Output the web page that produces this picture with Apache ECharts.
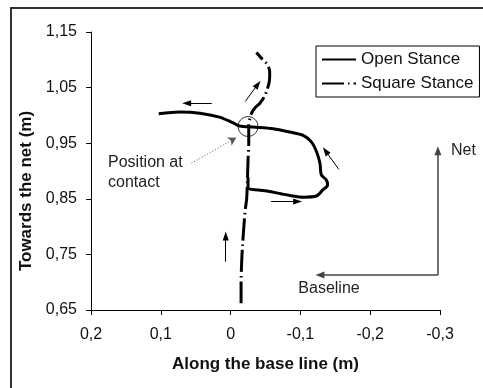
<!DOCTYPE html>
<html>
<head>
<meta charset="utf-8">
<script src="https://cdn.jsdelivr.net/npm/echarts@6/dist/echarts.min.js"></script>
<style>
  html, body { margin: 0; padding: 0; background: #fff; }
  #chart { width: 483px; height: 388px; }
</style>
</head>
<body>
<div id="chart"></div>
<script>
// Hip path seen from above, in metres: [along the base line, towards the net]
const openStance = [
  [-0.025, 0.889], [-0.025, 0.869], [-0.040, 0.866], [-0.056, 0.863], [-0.072, 0.859],
  [-0.085, 0.856], [-0.104, 0.853], [-0.123, 0.855], [-0.132, 0.866], [-0.139, 0.875],
  [-0.137, 0.884], [-0.130, 0.893], [-0.128, 0.914], [-0.123, 0.935], [-0.116, 0.952],
  [-0.104, 0.964], [-0.085, 0.970], [-0.061, 0.976], [-0.032, 0.979], [-0.013, 0.981],
  [-0.003, 0.987], [0.016, 0.997], [0.044, 1.004], [0.073, 1.006], [0.103, 1.003]
];
const squareStance = [
  [-0.015, 0.662], [-0.015, 0.700], [-0.016, 0.740], [-0.017, 0.764], [-0.019, 0.800],
  [-0.021, 0.830], [-0.023, 0.850], [-0.024, 0.880], [-0.025, 0.920], [-0.026, 0.950],
  [-0.026, 0.980], [-0.030, 1.004], [-0.036, 1.015], [-0.042, 1.022], [-0.048, 1.033],
  [-0.052, 1.045], [-0.055, 1.058], [-0.056, 1.070], [-0.056, 1.079], [-0.051, 1.094],
  [-0.044, 1.103], [-0.037, 1.113]
];
// Ball contact position (circled)
const contactPoint = [-0.025, 0.980];
// Direction-of-motion arrows: [from, to]
const motionArrows = [
  [[0.027, 1.022], [0.063, 1.022]],
  [[-0.021, 1.025], [-0.039, 1.056]],
  [[-0.155, 0.903], [-0.136, 0.936]],
  [[-0.058, 0.845], [-0.096, 0.845]],
  [[0.007, 0.737], [0.007, 0.783]]
];
// Court orientation guide: corner, net end, baseline end
const guideCorner = [-0.297, 0.713];
const guideNet = [-0.297, 0.9365];
const guideBaseline = [-0.128, 0.713];
// Pointer from the caption to the contact position
const contactPointer = [[0.056, 0.914], [-0.008, 0.960]];

const xTicks = { min: -0.3, max: 0.2, step: 0.1 };
const yTicks = { min: 0.65, max: 1.15, step: 0.1 };

const fmt = v => String(Math.round(v * 100) / 100).replace('.', ',');

const chart = echarts.init(document.getElementById('chart'), null, { renderer: 'canvas' });

const arrowLines = motionArrows.map(a => [
  { coord: a[0], symbol: 'none' },
  { coord: a[1], symbol: 'triangle', symbolSize: [6, 9] }
]);
arrowLines.push([
  { coord: guideCorner, symbol: 'none', lineStyle: { color: '#444', width: 1.5 } },
  { coord: guideNet, symbol: 'triangle', symbolSize: [7, 9] }
]);
arrowLines.push([
  { coord: guideCorner, symbol: 'none', lineStyle: { color: '#444', width: 1.5 } },
  { coord: guideBaseline, symbol: 'triangle', symbolSize: [7, 9] }
]);
arrowLines.push([
  { coord: contactPointer[0], symbol: 'none', lineStyle: { color: '#555', width: 1, type: [1, 2] } },
  { coord: contactPointer[1], symbol: 'arrow', symbolSize: [7, 8] }
]);

const font = 'Liberation Sans, Arial, sans-serif';

chart.setOption({
  animation: false,
  backgroundColor: '#fff',
  textStyle: { fontFamily: font },
  grid: { left: 91, right: 43, top: 32, bottom: 78 },
  xAxis: {
    type: 'value',
    inverse: true,
    min: xTicks.min, max: xTicks.max, interval: xTicks.step,
    name: 'Along the base line (m)',
    nameLocation: 'middle',
    nameGap: 46,
    nameTextStyle: { fontSize: 17, fontWeight: 'bold', color: '#111', fontFamily: font },
    axisLine: { onZero: false, lineStyle: { color: '#000', width: 1 } },
    axisTick: { length: 5, lineStyle: { color: '#000' } },
    axisLabel: { fontSize: 16, color: '#111', margin: 17, formatter: fmt, fontFamily: font },
    splitLine: { show: false }
  },
  yAxis: {
    type: 'value',
    min: yTicks.min, max: yTicks.max, interval: yTicks.step,
    axisLine: { show: true, onZero: false, lineStyle: { color: '#000', width: 1 } },
    axisTick: { show: true, length: 5, lineStyle: { color: '#000' } },
    axisLabel: { fontSize: 16, color: '#111', margin: 14, formatter: fmt, fontFamily: font },
    splitLine: { show: false }
  },
  legend: {
    data: ['Open Stance', 'Square Stance'],
    orient: 'vertical',
    left: 316, top: 46,
    padding: [5, 6, 5, 5],
    itemWidth: 34, itemHeight: 14, itemGap: 7, itemTextGap: 3,
    borderColor: '#000', borderWidth: 1, backgroundColor: '#fff',
    itemStyle: { opacity: 0, borderWidth: 0 },
    textStyle: { fontSize: 17, color: '#111', fontFamily: font },
    selectedMode: false
  },
  series: [
    {
      name: 'Open Stance',
      type: 'line',
      data: openStance,
      symbol: 'none',
      smooth: 0.3,
      lineStyle: { color: '#000', width: 3 },
      itemStyle: { color: '#000' },
      z: 3,
      markLine: {
        silent: true,
        animation: false,
        label: { show: false },
        lineStyle: { color: '#000', width: 1, type: 'solid' },
        itemStyle: { color: '#000' },
        data: arrowLines
      }
    },
    {
      name: 'Square Stance',
      type: 'line',
      data: squareStance,
      symbol: 'none',
      smooth: 0.3,
      lineStyle: { color: '#000', width: 3, type: [22, 4, 1.5, 4] },
      itemStyle: { color: '#000' },
      z: 3
    },
    {
      name: 'contact',
      type: 'scatter',
      data: [contactPoint],
      symbol: 'circle',
      symbolSize: 20,
      itemStyle: { color: 'rgba(0,0,0,0)', borderColor: '#000', borderWidth: 1 },
      silent: true,
      z: 4
    }
  ],
  graphic: [
    {
      type: 'rect', silent: true,
      shape: { x: 11, y: 8, width: 490, height: 400 },
      style: { fill: 'none', stroke: '#333', lineWidth: 2 }
    },
    {
      type: 'text', silent: true,
      x: 26, y: 191, rotation: Math.PI / 2,
      style: {
        text: 'Towards the net (m)', fontSize: 17, fontWeight: 'bold', fill: '#111',
        fontFamily: font, align: 'center', verticalAlign: 'middle'
      }
    },
    {
      type: 'text', silent: true,
      x: 108, y: 153,
      style: {
        text: 'Position at\ncontact', fontSize: 16, lineHeight: 20, fill: '#222',
        fontFamily: font, align: 'left', verticalAlign: 'top'
      }
    },
    {
      type: 'text', silent: true,
      x: 451, y: 151,
      style: { text: 'Net', fontSize: 16, fill: '#222', fontFamily: font, align: 'left', verticalAlign: 'middle' }
    },
    {
      type: 'text', silent: true,
      x: 329, y: 289,
      style: { text: 'Baseline', fontSize: 16, fill: '#222', fontFamily: font, align: 'center', verticalAlign: 'middle' }
    }
  ]
});
</script>
</body>
</html>
